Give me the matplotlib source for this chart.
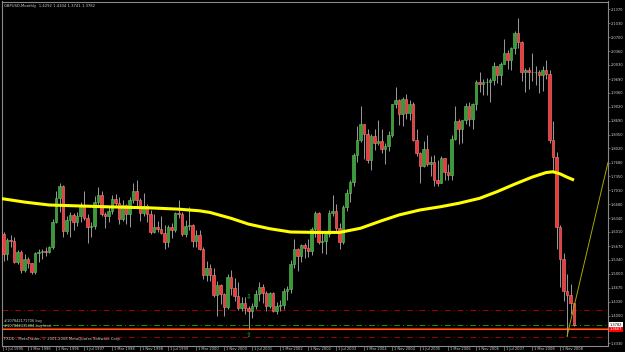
import matplotlib
matplotlib.use("Agg")
import matplotlib.pyplot as plt
import matplotlib.transforms as mtransforms
import numpy as np


# GBPUSD monthly candles, Jul 1995 .. Mar 2009 (one entry per month)
opens = [
    1.594, 1.595, 1.548, 1.581, 1.580, 1.529,
    1.553, 1.509, 1.535, 1.527, 1.505, 1.551, 1.552, 1.555, 1.554, 1.565, 1.624, 1.683,
    1.712, 1.604, 1.630, 1.643, 1.624, 1.640, 1.665, 1.635, 1.612, 1.616, 1.673, 1.690,
    1.645, 1.640, 1.651, 1.680, 1.671, 1.633, 1.667, 1.645, 1.677, 1.699, 1.677, 1.646,
    1.664, 1.645, 1.601, 1.612, 1.609, 1.598, 1.577, 1.612, 1.605, 1.646, 1.645, 1.597,
    1.615, 1.617, 1.579, 1.593, 1.560, 1.497, 1.515, 1.498, 1.450, 1.473, 1.451, 1.420,
    1.493, 1.467, 1.447, 1.418, 1.431, 1.417, 1.410, 1.422, 1.451, 1.469, 1.455, 1.422,
    1.455, 1.412, 1.422, 1.425, 1.458, 1.463, 1.525, 1.561, 1.544, 1.570, 1.563, 1.556,
    1.609, 1.646, 1.576, 1.579, 1.595, 1.647, 1.651, 1.610, 1.577, 1.660, 1.695, 1.721,
    1.786, 1.822, 1.862, 1.838, 1.774, 1.831, 1.815, 1.819, 1.801, 1.807, 1.835, 1.910,
    1.919, 1.884, 1.922, 1.888, 1.910, 1.822, 1.792, 1.760, 1.801, 1.764, 1.770, 1.727,
    1.720, 1.779, 1.745, 1.738, 1.824, 1.869, 1.849, 1.870, 1.905, 1.872, 1.908, 1.962,
    1.957, 1.962, 1.962, 1.967, 2.000, 1.979, 2.006, 2.033, 2.015, 2.044, 2.080, 2.059,
    1.985, 1.991, 1.987, 1.985, 1.985, 1.979, 1.991, 1.982, 1.822, 1.781, 1.613, 1.537,
    1.460, 1.449, 1.4292,
]
highs = [
    1.613, 1.600, 1.587, 1.593, 1.590, 1.557,
    1.557, 1.549, 1.540, 1.527, 1.554, 1.559, 1.561, 1.565, 1.568, 1.632, 1.700, 1.718,
    1.715, 1.640, 1.649, 1.647, 1.650, 1.673, 1.700, 1.645, 1.625, 1.687, 1.710, 1.699,
    1.649, 1.660, 1.690, 1.692, 1.685, 1.677, 1.669, 1.685, 1.720, 1.725, 1.682, 1.695,
    1.669, 1.655, 1.644, 1.627, 1.640, 1.617, 1.617, 1.623, 1.650, 1.678, 1.648, 1.630,
    1.660, 1.621, 1.605, 1.605, 1.565, 1.530, 1.525, 1.515, 1.482, 1.475, 1.453, 1.500,
    1.510, 1.490, 1.480, 1.444, 1.445, 1.424, 1.430, 1.461, 1.480, 1.476, 1.459, 1.457,
    1.457, 1.432, 1.438, 1.466, 1.471, 1.534, 1.585, 1.563, 1.573, 1.575, 1.585, 1.612,
    1.651, 1.650, 1.600, 1.601, 1.655, 1.690, 1.668, 1.623, 1.667, 1.705, 1.725, 1.790,
    1.855, 1.905, 1.862, 1.849, 1.838, 1.849, 1.870, 1.849, 1.815, 1.844, 1.910, 1.949,
    1.920, 1.926, 1.934, 1.919, 1.913, 1.849, 1.794, 1.821, 1.835, 1.784, 1.786, 1.774,
    1.785, 1.780, 1.765, 1.835, 1.905, 1.874, 1.870, 1.912, 1.913, 1.912, 1.968, 1.985,
    1.970, 1.972, 1.971, 2.011, 2.000, 2.009, 2.066, 2.040, 2.046, 2.085, 2.116, 2.060,
    1.995, 1.998, 2.031, 2.001, 1.990, 2.000, 2.016, 1.990, 1.867, 1.793, 1.618, 1.550,
    1.500, 1.476, 1.4304,
]
lows = [
    1.580, 1.530, 1.534, 1.564, 1.526, 1.525,
    1.503, 1.505, 1.515, 1.499, 1.500, 1.528, 1.535, 1.543, 1.550, 1.560, 1.622, 1.650,
    1.590, 1.595, 1.590, 1.605, 1.615, 1.625, 1.630, 1.575, 1.590, 1.608, 1.665, 1.640,
    1.610, 1.624, 1.645, 1.660, 1.620, 1.628, 1.620, 1.612, 1.670, 1.660, 1.628, 1.640,
    1.625, 1.595, 1.598, 1.600, 1.595, 1.560, 1.565, 1.587, 1.600, 1.635, 1.592, 1.590,
    1.605, 1.565, 1.565, 1.557, 1.488, 1.484, 1.483, 1.445, 1.400, 1.427, 1.400, 1.415,
    1.450, 1.434, 1.413, 1.410, 1.404, 1.368, 1.395, 1.416, 1.435, 1.431, 1.412, 1.418,
    1.408, 1.404, 1.410, 1.415, 1.438, 1.455, 1.515, 1.507, 1.529, 1.538, 1.540, 1.546,
    1.590, 1.572, 1.551, 1.549, 1.590, 1.640, 1.600, 1.560, 1.571, 1.652, 1.672, 1.712,
    1.770, 1.817, 1.777, 1.766, 1.750, 1.798, 1.810, 1.790, 1.764, 1.795, 1.830, 1.900,
    1.858, 1.855, 1.874, 1.870, 1.820, 1.784, 1.720, 1.758, 1.760, 1.735, 1.712, 1.712,
    1.719, 1.725, 1.725, 1.727, 1.823, 1.812, 1.816, 1.862, 1.857, 1.850, 1.895, 1.938,
    1.930, 1.930, 1.915, 1.955, 1.960, 1.955, 2.005, 1.994, 1.990, 2.030, 2.045, 1.965,
    1.937, 1.945, 1.965, 1.955, 1.935, 1.940, 1.970, 1.816, 1.743, 1.561, 1.469, 1.436,
    1.350, 1.404, 1.3741,
]
closes = [
    1.595, 1.548, 1.581, 1.580, 1.529, 1.553,
    1.509, 1.535, 1.527, 1.505, 1.551, 1.552, 1.555, 1.554, 1.565, 1.624, 1.683, 1.712,
    1.604, 1.630, 1.643, 1.624, 1.640, 1.665, 1.635, 1.612, 1.616, 1.673, 1.690, 1.645,
    1.640, 1.651, 1.680, 1.671, 1.633, 1.667, 1.645, 1.677, 1.699, 1.677, 1.646, 1.664,
    1.645, 1.601, 1.612, 1.609, 1.598, 1.577, 1.612, 1.605, 1.646, 1.645, 1.597, 1.615,
    1.617, 1.579, 1.593, 1.560, 1.497, 1.515, 1.498, 1.450, 1.473, 1.451, 1.420, 1.493,
    1.467, 1.447, 1.418, 1.431, 1.417, 1.410, 1.422, 1.451, 1.469, 1.455, 1.422, 1.455,
    1.412, 1.422, 1.425, 1.458, 1.463, 1.525, 1.561, 1.544, 1.570, 1.563, 1.556, 1.609,
    1.646, 1.576, 1.579, 1.595, 1.647, 1.651, 1.610, 1.577, 1.660, 1.695, 1.721, 1.786,
    1.822, 1.862, 1.838, 1.774, 1.831, 1.815, 1.819, 1.801, 1.807, 1.835, 1.910, 1.919,
    1.884, 1.922, 1.888, 1.910, 1.822, 1.792, 1.760, 1.801, 1.764, 1.770, 1.727, 1.720,
    1.779, 1.745, 1.738, 1.824, 1.869, 1.849, 1.870, 1.905, 1.872, 1.908, 1.962, 1.957,
    1.962, 1.962, 1.967, 2.000, 1.979, 2.006, 2.033, 2.015, 2.044, 2.080, 2.059, 1.985,
    1.991, 1.987, 1.985, 1.985, 1.979, 1.991, 1.982, 1.822, 1.781, 1.613, 1.537, 1.460,
    1.449, 1.4292, 1.3782,
]

# yellow moving average, read at sample months (month index from Jul 1995)
ma_month = [0, 7, 14, 29, 43, 51, 57, 60, 66, 71, 77, 83, 90, 97, 103, 109, 114,
            120, 126, 131, 137, 142, 147, 152, 156, 158, 160, 162, 164]
ma_price = [1.682, 1.673, 1.666, 1.662, 1.659, 1.656, 1.652, 1.648, 1.634, 1.620,
            1.609, 1.601, 1.600, 1.600, 1.610, 1.628, 1.642, 1.654, 1.662, 1.670,
            1.682, 1.698, 1.716, 1.733, 1.744, 1.746, 1.741, 1.733, 1.726]

# trend line drawn from the Jan 2009 low
trend_month = [162, 173.7]
trend_price = [1.350, 1.768]

# horizontal order / price levels
stop_levels = [1.4125, 1.3475]
buy_level = 1.3782
limit_level = 1.3667

price_ticks = [2.1370, 2.1030, 2.0700, 2.0360, 2.0030, 1.9690, 1.9360, 1.9020,
               1.8690, 1.8350, 1.8020, 1.7680, 1.7350, 1.7010, 1.6680, 1.6340,
               1.6010, 1.5670, 1.5340, 1.5000, 1.4670, 1.4330, 1.4000, 1.3330]

date_months = [0, 8, 16, 24, 32, 40, 48, 56, 64, 72, 80, 88, 96, 104, 112,
               120, 128, 136, 144, 152, 160]
date_labels = ["1 Jul 1995", "1 Mar 1996", "1 Nov 1996", "1 Jul 1997", "1 Mar 1998",
               "1 Nov 1998", "1 Jul 1999", "1 Mar 2000", "1 Nov 2000", "1 Jul 2001",
               "1 Mar 2002", "1 Nov 2002", "1 Jul 2003", "1 Mar 2004", "1 Nov 2004",
               "1 Jul 2005", "1 Mar 2006", "1 Nov 2006", "1 Jul 2007", "1 Mar 2008",
               "1 Nov 2008"]

BULL = "#3a9a3a"
BEAR = "#f03a3a"
WICK = "#9a9a9a"
FRAME = "#8a8a8a"
TEXT = "#d0d0d0"
FS = 2.9

x_lo, x_hi = 0.57, 173.71
y_lo, y_hi = 1.3278, 2.1558

fig = plt.figure(figsize=(6.25, 3.52), dpi=100, facecolor="black")
ax = fig.add_axes([2 / 625, 6.5 / 352, 606 / 625, 344 / 352])
ax.set_facecolor("black")
ax.set_xlim(x_lo, x_hi)
ax.set_ylim(y_lo, y_hi)

o = np.array(opens)
h = np.array(highs)
lo = np.array(lows)
c = np.array(closes)
idx = np.arange(len(c))
up = c >= o

# candles
ax.vlines(idx, lo, h, color=WICK, linewidth=0.7, zorder=3)
ax.bar(idx, np.abs(c - o), bottom=np.minimum(o, c), width=0.6,
       color=np.where(up, BULL, BEAR), edgecolor=np.where(up, "#5fc85f", "#ff8080"),
       linewidth=0.4, zorder=4)

# moving average and trend line
ax.plot(ma_month, ma_price, color="#ffff00", linewidth=2.2, zorder=5,
        solid_capstyle="butt")
ax.plot(trend_month, trend_price, color="#a8a800", linewidth=0.7, zorder=5)

# order levels
for lvl in stop_levels:
    ax.axhline(lvl, color="#a00000", linewidth=0.7, linestyle=(0, (6, 3, 1, 3)), zorder=2)
ax.axhline(buy_level, color="#00a000", linewidth=0.7, linestyle=(0, (6, 3, 1, 3)), zorder=2)
ax.axhline(limit_level, color="#e01010", linewidth=1.6, zorder=2)
ax.axhline(limit_level, color="#e0a000", linewidth=0.5, zorder=2)

ax.text(1.2, buy_level + 0.003, "#107842171706 buy", fontsize=FS - 0.3,
        color=TEXT, va="bottom", ha="left", zorder=6)
ax.text(1.2, limit_level + 0.0025, "#107842435404 buy limit", fontsize=FS - 0.3,
        color=TEXT, va="bottom", ha="left", zorder=6)

# trade arrows
ax.text(71, 1.4445, "\u21e9", fontsize=5, color="#20b020", ha="center", va="center", zorder=6)
ax.text(71, 1.352, "\u21e7", fontsize=5, color="#20b020", ha="center", va="center", zorder=6)

# header / footer
ax.text(0.003, 0.992, "GBPUSD,Monthly  1.4292 1.4304 1.3741 1.3782",
        transform=ax.transAxes, fontsize=FS - 0.2, color=TEXT, va="top", ha="left")
ax.text(0.003, 0.012, "FXDD - MetaTrader, \u00a9 2001-2008 MetaQuotes Software Corp.",
        transform=ax.transAxes, fontsize=FS - 0.2, color=TEXT, va="bottom", ha="left")

# frame
for side, sp in ax.spines.items():
    sp.set_color(FRAME)
    sp.set_linewidth(0.8)

# right price scale
ax.yaxis.tick_right()
ax.set_yticks(price_ticks)
ax.set_yticklabels([f"{p:.4f}" for p in price_ticks])
ax.tick_params(axis="y", colors=FRAME, labelcolor=TEXT, labelsize=2.6,
               length=1.5, width=0.5, pad=0.6)
ax.set_xticks([])

blend_y = mtransforms.blended_transform_factory(ax.transAxes, ax.transData)
ax.text(1.003, buy_level, f"{buy_level:.4f}", transform=blend_y, fontsize=2.6,
        color="black", ha="left", va="center", clip_on=False, zorder=7,
        bbox=dict(boxstyle="square,pad=0.2", facecolor="white", edgecolor="none"))
ax.text(1.003, limit_level, f"{limit_level:.4f}", transform=blend_y, fontsize=2.6,
        color="white", ha="left", va="center", clip_on=False, zorder=7,
        bbox=dict(boxstyle="square,pad=0.2", facecolor="#ff0000", edgecolor="none"))

# date scale
blend_x = mtransforms.blended_transform_factory(ax.transData, ax.transAxes)
for m, lab in zip(date_months, date_labels):
    pos = max(m, x_lo + 0.3)
    ax.plot([pos, pos], [0, -0.012], transform=blend_x, color=FRAME,
            linewidth=0.5, clip_on=False)
    ax.text(pos + 0.6, -0.004, lab, transform=blend_x, fontsize=FS - 0.3,
            color=TEXT, ha="left", va="top", clip_on=False)

fig.savefig("out.png", dpi=100, facecolor="black")
